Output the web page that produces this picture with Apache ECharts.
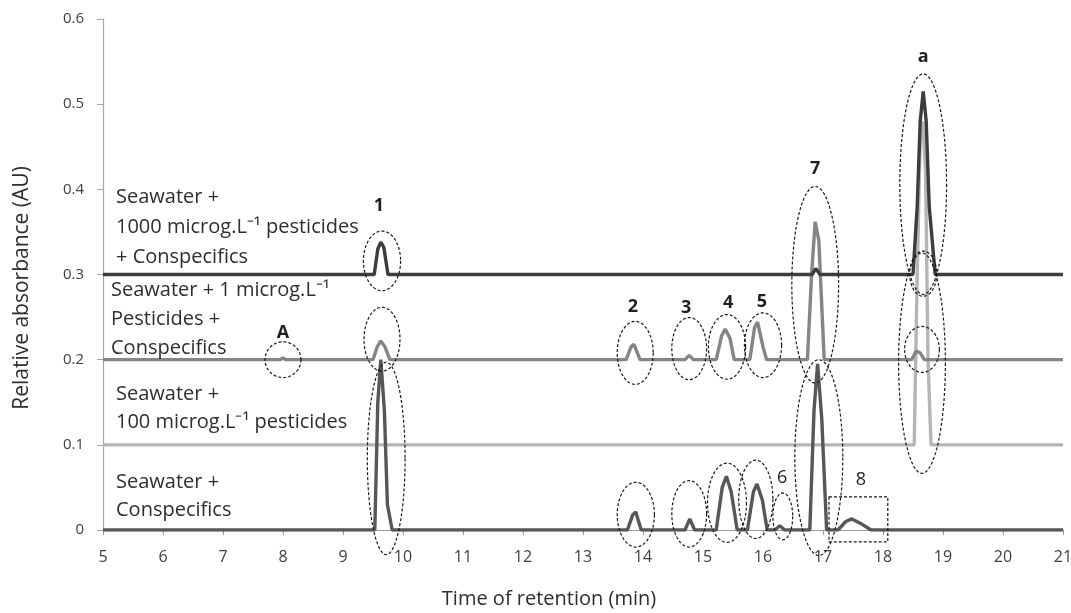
<!DOCTYPE html>
<html><head><meta charset="utf-8">
<script src="https://cdn.jsdelivr.net/npm/echarts@6/dist/echarts.min.js"></script>
<style>html,body{margin:0;padding:0;background:#fff}#c{width:1071px;height:613px}</style>
</head><body><div id="c"></div><script>
// ---- data ----
const xTickValues = [5,6,7,8,9,10,11,12,13,14,15,16,17,18,19,20,21];
const yTickValues = [0,0.1,0.2,0.3,0.4,0.5,0.6];
const xTitle = 'Time of retention (min)';
const yTitle = 'Relative absorbance (AU)';
const seriesNames = [
  'Seawater + 100 microg.L⁻¹ pesticides',
  'Seawater + 1 microg.L⁻¹ Pesticides + Conspecifics',
  'Seawater + Conspecifics',
  'Seawater + 1000 microg.L⁻¹ pesticides + Conspecifics'
];
// Seawater + 100 microg.L-1 pesticides (baseline 0.1)
const pest100 = [[5,0.1],[18.52,0.1],[18.57,0.3],[18.62,0.46],[18.66,0.48],[18.71,0.42],[18.75,0.2],[18.8,0.1],[21,0.1]];
// Seawater + 1 microg.L-1 Pesticides + Conspecifics (baseline 0.2)
const pest1 = [[5,0.2],[7.95,0.2],[8.0,0.202],[8.05,0.2],[9.5,0.2],[9.57,0.215],[9.63,0.222],[9.7,0.215],[9.78,0.2],
  [13.72,0.2],[13.8,0.215],[13.85,0.218],[13.95,0.2],
  [14.7,0.2],[14.77,0.205],[14.84,0.2],
  [15.22,0.2],[15.31,0.228],[15.37,0.236],[15.45,0.225],[15.52,0.2],
  [15.78,0.2],[15.86,0.238],[15.91,0.244],[16.0,0.215],[16.06,0.2],
  [16.74,0.2],[16.81,0.3],[16.87,0.362],[16.93,0.34],[17.02,0.2],
  [18.48,0.2],[18.55,0.21],[18.62,0.208],[18.69,0.2],[21,0.2]];
// Seawater + Conspecifics (baseline 0)
const conspecifics = [[5,0],[9.53,0],[9.58,0.15],[9.63,0.2],[9.69,0.14],[9.74,0.03],[9.82,0],
  [13.74,0],[13.83,0.018],[13.88,0.021],[13.97,0],
  [14.7,0],[14.78,0.013],[14.86,0],
  [15.22,0],[15.32,0.05],[15.39,0.063],[15.47,0.045],[15.57,0],
  [15.74,0],[15.84,0.045],[15.9,0.054],[15.99,0.035],[16.07,0],
  [16.2,0],[16.28,0.005],[16.36,0],
  [16.78,0],[16.85,0.14],[16.91,0.195],[16.98,0.13],[17.06,0],
  [17.25,0],[17.38,0.01],[17.48,0.013],[17.62,0.008],[17.8,0],[21,0]];
// Seawater + 1000 microg.L-1 pesticides + Conspecifics (baseline 0.3)
const pest1000 = [[5,0.3],[9.52,0.3],[9.58,0.33],[9.63,0.338],[9.68,0.332],[9.75,0.3],
  [16.82,0.3],[16.88,0.307],[16.95,0.3],
  [18.5,0.3],[18.57,0.38],[18.62,0.48],[18.67,0.515],[18.72,0.48],[18.77,0.38],[18.87,0.3],[21,0.3]];
// dashed ellipse annotations: [centre time, centre AU, width min, height AU]
const ellipses = [
  [9.65,0.316,0.62,0.07],[9.65,0.224,0.6,0.075],[9.72,0.084,0.63,0.226],[8.0,0.2,0.6,0.042],
  [13.87,0.208,0.6,0.074],[14.77,0.213,0.58,0.073],[15.4,0.215,0.62,0.076],[16.0,0.217,0.62,0.076],
  [16.87,0.288,0.78,0.231],[16.93,0.085,0.8,0.23],
  [13.88,0.018,0.62,0.076],[14.77,0.019,0.58,0.078],[15.4,0.032,0.65,0.093],[15.88,0.036,0.57,0.092],
  [16.33,0.016,0.33,0.055],
  [18.67,0.406,0.78,0.259],[18.67,0.301,0.45,0.053],[18.65,0.212,0.58,0.054],[18.65,0.196,0.78,0.259]
];
// dashed box annotation: [t0, a0, t1, a1]
const boxes = [[17.1,0.039,18.08,-0.014]];
// peak labels: [time, AU, text, bold]
const peakLabels = [
  [9.6,0.38,'1',1],[8.0,0.232,'A',1],[13.83,0.262,'2',1],[14.72,0.261,'3',1],[15.42,0.267,'4',1],
  [15.98,0.268,'5',1],[16.87,0.424,'7',1],[18.67,0.556,'a',1],[16.32,0.061,'6',0],[17.63,0.059,'8',0]
];
// ---- chart ----
const chart = echarts.init(document.getElementById('c'));
const lineColors = ['#b5b5b5','#858585','#575757','#3d3d3d'];
const lineData = [pest100, pest1, conspecifics, pest1000];
const FONT = 'Open Sans';
const TXT = '#2e2e2e';
const series = lineData.map((d,i)=>({
  type:'line', name:seriesNames[i], data:d, showSymbol:false, symbol:'none',
  lineStyle:{width:3.4,color:lineColors[i]}, itemStyle:{color:lineColors[i]}, z:2+i, animation:false
}));
series.push({
  type:'custom', data:ellipses, clip:false, z:10, silent:true, animation:false,
  encode:{x:0,y:1},
  renderItem:(p,api)=>{
    const c=api.coord([api.value(0),api.value(1)]);
    const s=api.size([api.value(2),api.value(3)]);
    const rx=s[0]/2, ry=s[1]/2, pts=[];
    for(let k=0;k<=72;k++){const a=k/72*Math.PI*2;pts.push([c[0]+rx*Math.cos(a),c[1]+ry*Math.sin(a)]);}
    return {type:'polyline',shape:{points:pts},style:{fill:null,stroke:'#1a1a1a',lineWidth:1.2,lineDash:[3,2]}};
  }
});
series.push({
  type:'custom', data:boxes, clip:false, z:10, silent:true, animation:false,
  encode:{x:[0,2],y:[1,3]},
  renderItem:(p,api)=>{
    const a=api.coord([api.value(0),api.value(1)]), b=api.coord([api.value(2),api.value(3)]);
    return {type:'rect',shape:{x:a[0],y:a[1],width:b[0]-a[0],height:b[1]-a[1]},style:{fill:null,stroke:'#1a1a1a',lineWidth:1.2,lineDash:[3,2]}};
  }
});
series.push({
  type:'custom', data:peakLabels, clip:false, z:11, silent:true, animation:false,
  encode:{x:0,y:1},
  renderItem:(p,api)=>{
    const c=api.coord([api.value(0),api.value(1)]);
    const item=peakLabels[p.dataIndex];
    return {type:'text',x:c[0],y:c[1],style:{text:item[2],fontSize:18,fontWeight:item[3]?'bold':'normal',fontFamily:FONT,fill:'#1f1f1f',align:'center',verticalAlign:'middle'}};
  }
});
const txt=(left,top,text,lh)=>({type:'text',left:left,top:top,z:20,style:{text:text,fontSize:20,lineHeight:lh,fontFamily:FONT,fill:TXT}});
chart.setOption({
  animation:false,
  backgroundColor:'#ffffff',
  grid:{left:103,right:8,top:19,bottom:83,containLabel:false,outerBoundsMode:'none'},
  xAxis:{type:'value',min:5,max:21,interval:1,
    axisLine:{show:true,lineStyle:{color:'#9a9a9a',width:1}},
    axisTick:{show:true,length:5,lineStyle:{color:'#9a9a9a'}},
    axisLabel:{fontSize:16,color:'#404040',margin:19,fontFamily:FONT,
      formatter:v=>xTickValues.indexOf(Math.round(v))>=0?String(Math.round(v)):''},
    splitLine:{show:false}},
  yAxis:{type:'value',min:0,max:0.6,interval:0.1,
    axisLine:{show:true,lineStyle:{color:'#a6a6a6',width:1.2}},
    axisTick:{show:true,length:6,lineStyle:{color:'#a6a6a6'}},
    axisLabel:{fontSize:15,color:'#404040',margin:19,fontFamily:FONT,
      formatter:v=>yTickValues.indexOf(Math.round(v*10)/10)>=0?(v===0?'0':v.toFixed(1)):''},
    splitLine:{show:false}},
  graphic:[
    txt(116,182,'Seawater +\n1000 microg.L⁻¹ pesticides\n+ Conspecifics',30),
    txt(111,276,'Seawater + 1 microg.L⁻¹\nPesticides +\nConspecifics',29),
    txt(116,380,'Seawater +\n100 microg.L⁻¹ pesticides',28.5),
    txt(116,468,'Seawater +\nConspecifics',28.5),
    {type:'text',x:549,y:599,z:20,style:{text:xTitle,fontSize:20,fontFamily:FONT,fill:TXT,align:'center',verticalAlign:'middle'}},
    {type:'text',x:22,y:288,rotation:Math.PI/2,z:20,style:{text:yTitle,fontSize:21,fontFamily:FONT,fill:TXT,align:'center',verticalAlign:'middle'}}
  ],
  series:series
});
</script></body></html>
